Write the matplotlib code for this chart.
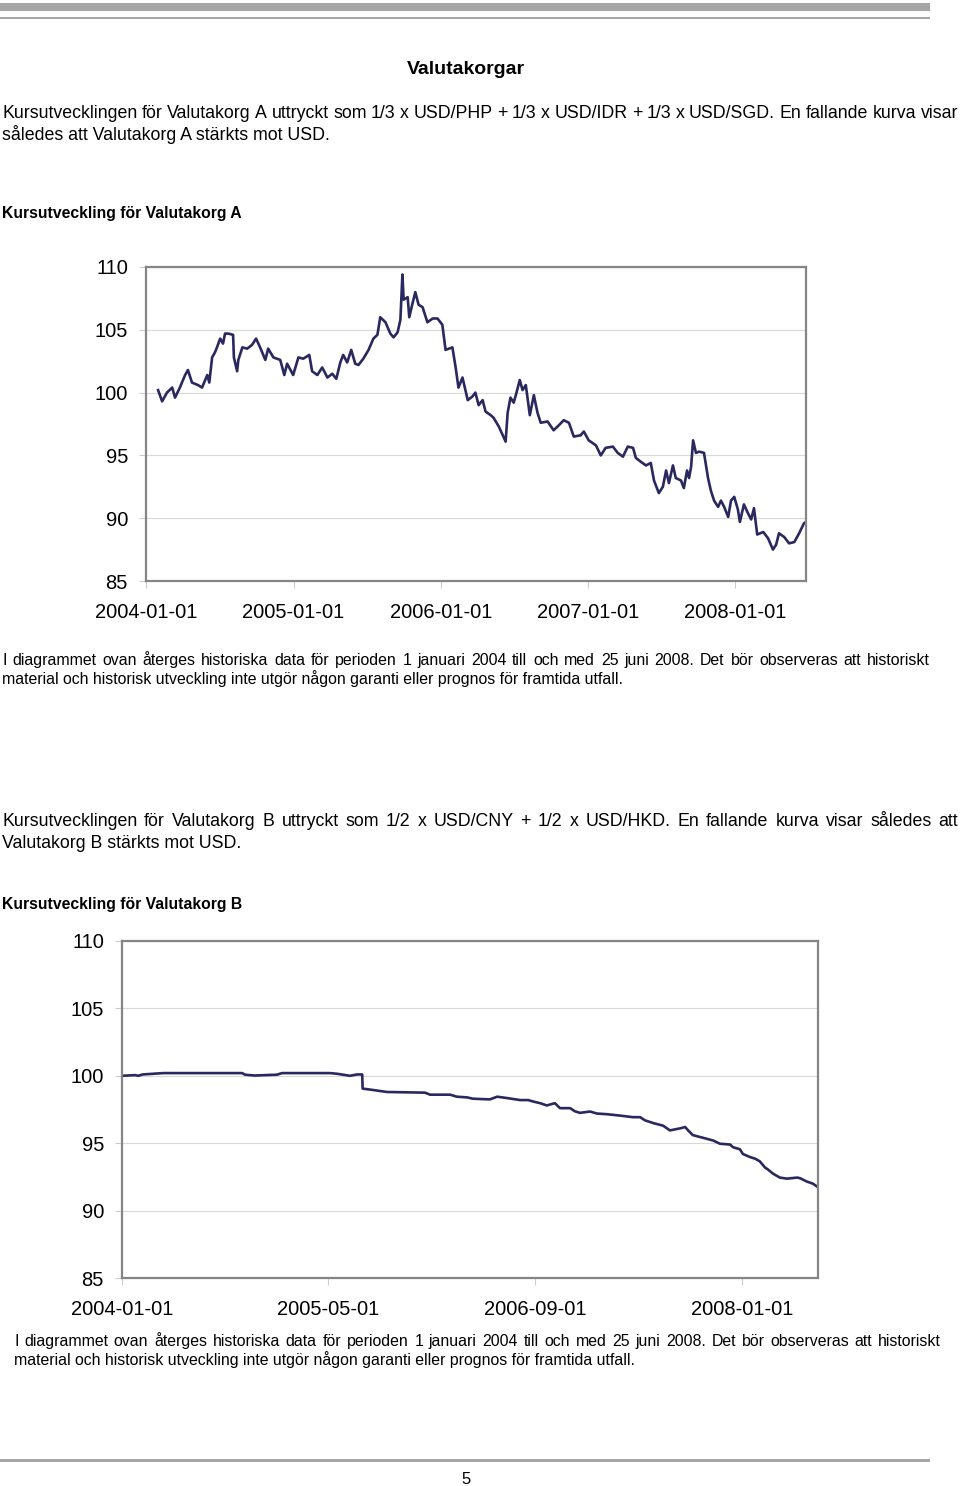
import matplotlib
matplotlib.use('Agg')
import matplotlib.pyplot as plt
import matplotlib.dates as mdates
from matplotlib.patches import Rectangle

plt.rcParams['font.family'] = ['Liberation Sans', 'DejaVu Sans']

# ---------------- data ----------------
dates_a = ['2004-01-31', '2004-02-10', '2004-02-22', '2004-03-06', '2004-03-13', '2004-03-25',
           '2004-04-07', '2004-04-14', '2004-04-24', '2004-05-09', '2004-05-19', '2004-06-01',
           '2004-06-06', '2004-06-13', '2004-06-20', '2004-06-25', '2004-07-03', '2004-07-10',
           '2004-07-15', '2004-07-23', '2004-08-04', '2004-08-06', '2004-08-14', '2004-08-17',
           '2004-08-27', '2004-09-08', '2004-09-20', '2004-09-30', '2004-10-10', '2004-10-23',
           '2004-10-30', '2004-11-12', '2004-11-29', '2004-12-09', '2004-12-16', '2004-12-31',
           '2005-01-13', '2005-01-25', '2005-02-09', '2005-02-16', '2005-03-01', '2005-03-13',
           '2005-03-26', '2005-04-07', '2005-04-17', '2005-04-27', '2005-05-04', '2005-05-14',
           '2005-05-24', '2005-06-03', '2005-06-11', '2005-06-23', '2005-07-06', '2005-07-18',
           '2005-07-28', '2005-08-04', '2005-08-17', '2005-08-29', '2005-09-06', '2005-09-16',
           '2005-09-23', '2005-09-28', '2005-10-01', '2005-10-11', '2005-10-15', '2005-10-23',
           '2005-10-30', '2005-11-07', '2005-11-17', '2005-11-29', '2005-12-12', '2005-12-24',
           '2006-01-05', '2006-01-13', '2006-01-30', '2006-02-07', '2006-02-14', '2006-02-24',
           '2006-03-09', '2006-03-21', '2006-03-28', '2006-04-05', '2006-04-15', '2006-04-22',
           '2006-05-05', '2006-05-12', '2006-05-25', '2006-06-11', '2006-06-16', '2006-06-23',
           '2006-07-01', '2006-07-08', '2006-07-16', '2006-07-23', '2006-07-31', '2006-08-05',
           '2006-08-10', '2006-08-20', '2006-08-29', '2006-09-06', '2006-09-23', '2006-10-08',
           '2006-10-21', '2006-11-02', '2006-11-15', '2006-11-27', '2006-12-14', '2006-12-22',
           '2007-01-03', '2007-01-21', '2007-02-02', '2007-02-14', '2007-03-04', '2007-03-16',
           '2007-03-29', '2007-04-10', '2007-04-23', '2007-04-30', '2007-05-12', '2007-05-25',
           '2007-06-06', '2007-06-14', '2007-06-26', '2007-07-06', '2007-07-14', '2007-07-21',
           '2007-07-31', '2007-08-07', '2007-08-20', '2007-08-27', '2007-09-04', '2007-09-09',
           '2007-09-14', '2007-09-19', '2007-09-26', '2007-10-04', '2007-10-16', '2007-10-26',
           '2007-11-02', '2007-11-10', '2007-11-20', '2007-11-27', '2007-12-05', '2007-12-15',
           '2007-12-22', '2007-12-30', '2008-01-08', '2008-01-13', '2008-01-23', '2008-02-02',
           '2008-02-10', '2008-02-17', '2008-02-25', '2008-03-11', '2008-03-23', '2008-04-04',
           '2008-04-12', '2008-04-19', '2008-05-02', '2008-05-14', '2008-05-27', '2008-06-08',
           '2008-06-20', '2008-06-25']
values_a = [100.2, 99.3, 100.0, 100.4, 99.6, 100.4,
            101.4, 101.8, 100.8, 100.6, 100.4, 101.4,
            100.8, 102.8, 103.2, 103.6, 104.3, 103.9,
            104.7, 104.7, 104.6, 102.8, 101.7, 102.6,
            103.6, 103.5, 103.8, 104.3, 103.6, 102.6,
            103.5, 102.8, 102.6, 101.4, 102.3, 101.4,
            102.8, 102.7, 103.0, 101.7, 101.4, 102.0,
            101.2, 101.5, 101.1, 102.4, 103.0, 102.4,
            103.4, 102.3, 102.2, 102.7, 103.4, 104.3,
            104.6, 106.0, 105.6, 104.7, 104.4, 104.8,
            105.8, 109.4, 107.4, 107.6, 106.0, 107.1,
            108.0, 107.0, 106.8, 105.6, 105.9, 105.9,
            105.4, 103.4, 103.6, 102.0, 100.4, 101.2,
            99.4, 99.7, 100.0, 99.0, 99.4, 98.5,
            98.2, 98.0, 97.3, 96.1, 98.4, 99.6,
            99.2, 100.0, 101.0, 100.2, 100.6, 99.4,
            98.2, 99.8, 98.4, 97.6, 97.7, 97.0,
            97.4, 97.8, 97.6, 96.5, 96.6, 96.9,
            96.2, 95.8, 95.0, 95.6, 95.7, 95.2,
            94.9, 95.7, 95.6, 94.8, 94.5, 94.2,
            94.4, 93.0, 92.0, 92.5, 93.8, 92.8,
            94.2, 93.2, 93.0, 92.4, 93.8, 93.2,
            94.1, 96.2, 95.2, 95.3, 95.2, 93.2,
            92.2, 91.4, 90.9, 91.4, 90.9, 90.1,
            91.4, 91.7, 90.7, 89.7, 91.1, 90.4,
            89.9, 90.8, 88.7, 88.9, 88.4, 87.5,
            87.9, 88.8, 88.5, 88.0, 88.1, 88.8,
            89.6, 89.7]

dates_b = ['2004-01-01', '2004-02-01', '2004-02-08', '2004-02-19', '2004-03-14', '2004-04-07',
           '2004-10-10', '2004-10-17', '2004-11-09', '2004-12-03', '2004-12-31', '2005-01-12',
           '2005-05-05', '2005-05-22', '2005-06-21', '2005-07-08', '2005-07-20', '2005-07-21',
           '2005-08-14', '2005-09-16', '2005-12-15', '2005-12-27', '2006-02-12', '2006-02-28',
           '2006-03-24', '2006-04-07', '2006-05-17', '2006-06-03', '2006-06-26', '2006-07-27',
           '2006-08-15', '2006-08-26', '2006-09-12', '2006-09-28', '2006-10-17', '2006-10-29',
           '2006-11-22', '2006-12-03', '2006-12-15', '2007-01-08', '2007-01-24', '2007-02-17',
           '2007-03-19', '2007-04-19', '2007-05-06', '2007-05-17', '2007-06-05', '2007-06-29',
           '2007-07-15', '2007-08-08', '2007-08-20', '2007-08-27', '2007-09-07', '2007-10-01',
           '2007-10-25', '2007-11-10', '2007-12-04', '2007-12-11', '2007-12-27', '2008-01-03',
           '2008-01-20', '2008-02-01', '2008-02-12', '2008-02-24', '2008-03-02', '2008-03-14',
           '2008-03-30', '2008-04-16', '2008-05-10', '2008-05-17', '2008-06-02', '2008-06-16',
           '2008-06-25']
values_b = [100.0, 100.05, 100.0, 100.1, 100.15, 100.2,
            100.2, 100.08, 100.02, 100.05, 100.08, 100.2,
            100.2, 100.15, 100.0, 100.1, 100.1, 99.05,
            98.95, 98.8, 98.75, 98.6, 98.6, 98.45,
            98.4, 98.3, 98.25, 98.45, 98.35, 98.2,
            98.2, 98.1, 97.97, 97.8, 97.97, 97.6,
            97.6, 97.37, 97.25, 97.35, 97.2, 97.15,
            97.05, 96.93, 96.93, 96.7, 96.5, 96.3,
            95.95, 96.1, 96.2, 95.95, 95.6, 95.4,
            95.2, 94.96, 94.9, 94.7, 94.55, 94.2,
            93.97, 93.85, 93.65, 93.2, 93.05, 92.74,
            92.45, 92.37, 92.45, 92.4, 92.15, 92.0,
            91.8]

xticks_a = ['2004-01-01', '2005-01-01', '2006-01-01', '2007-01-01', '2008-01-01']
xticks_b = ['2004-01-01', '2005-05-01', '2006-09-01', '2008-01-01']
yticks = [85, 90, 95, 100, 105, 110]

# ---------------- layout helpers ----------------
W, H = 960, 1486
fig = plt.figure(figsize=(W / 100, H / 100), dpi=100)
fig.patch.set_facecolor('white')


def fx(x):
    return x / W


def fy(y):
    return 1 - y / H


def add_axes_px(x0, y0, x1, y1):
    return fig.add_axes([fx(x0), fy(y1), (x1 - x0) / W, (y1 - y0) / H])


renderer = fig.canvas.get_renderer()


def justify(line, x0, x1, y, size, weight='normal'):
    words = line.split(' ')
    objs = [fig.text(0, fy(y), w, fontsize=size, fontweight=weight, va='baseline', ha='left')
            for w in words]
    widths = [o.get_window_extent(renderer=renderer).width for o in objs]
    gap = (x1 - x0 - sum(widths)) / max(len(words) - 1, 1)
    x = x0
    for o, w in zip(objs, widths):
        o.set_x(fx(x))
        x += w + gap


def text(x, y, s, size, weight='normal', ha='left'):
    fig.text(fx(x), fy(y), s, fontsize=size, fontweight=weight, va='baseline', ha=ha)


# rules
fig.add_artist(Rectangle((fx(0), fy(11)), fx(930), 8 / H, transform=fig.transFigure,
                         facecolor='#a6a6a6', edgecolor='none'))
fig.add_artist(Rectangle((fx(0), fy(19)), fx(930), 2 / H, transform=fig.transFigure,
                         facecolor='#a6a6a6', edgecolor='none'))
fig.add_artist(Rectangle((fx(0), fy(1462)), fx(930), 3 / H, transform=fig.transFigure,
                         facecolor='#a6a6a6', edgecolor='none'))

# texts
BODY = 12.8
NOTE = 11.4
text(466, 74, 'Valutakorgar', 14, 'bold', ha='center')
justify('Kursutvecklingen för Valutakorg A uttryckt som 1/3 x USD/PHP + 1/3 x USD/IDR + 1/3 x USD/SGD. En fallande kurva visar',
        2, 958, 118, BODY)
text(2, 140, 'således att Valutakorg A stärkts mot USD.', BODY)
text(2, 218, 'Kursutveckling för Valutakorg A', 11.3, 'bold')
justify('I diagrammet ovan återges historiska data för perioden 1 januari 2004 till och med 25 juni 2008. Det bör observeras att historiskt',
        2, 930, 665, NOTE)
text(2, 684, 'material och historisk utveckling inte utgör någon garanti eller prognos för framtida utfall.', NOTE)

justify('Kursutvecklingen för Valutakorg B uttryckt som 1/2 x USD/CNY + 1/2 x USD/HKD. En fallande kurva visar således att',
        2, 958, 826, BODY)
text(2, 848, 'Valutakorg B stärkts mot USD.', BODY)
text(2, 909, 'Kursutveckling för Valutakorg B', 11.3, 'bold')
justify('I diagrammet ovan återges historiska data för perioden 1 januari 2004 till och med 25 juni 2008. Det bör observeras att historiskt',
        14, 941, 1346, NOTE)
text(14, 1365, 'material och historisk utveckling inte utgör någon garanti eller prognos för framtida utfall.', NOTE)
text(466, 1484, '5', 12, ha='center')


# ---------------- charts ----------------
def setup(ax, ticks, xmin, xmax):
    ax.set_ylim(85, 110)
    ax.set_yticks(yticks)
    ax.set_yticklabels([str(v) for v in yticks])
    ax.set_xlim(mdates.datestr2num(xmin), mdates.datestr2num(xmax))
    ax.set_xticks(mdates.datestr2num(ticks))
    ax.set_xticklabels(ticks)
    ax.grid(axis='y', color='#d9d9d9', lw=0.8)
    ax.grid(axis='x', visible=False)
    ax.set_axisbelow(True)
    for s in ax.spines.values():
        s.set_color('#858585')
        s.set_linewidth(1.6)
    ax.tick_params(axis='both', direction='out', length=5, width=0.8, color='#cccccc',
                   labelsize=14.5, labelcolor='black')
    ax.tick_params(axis='x', pad=11)
    ax.tick_params(axis='y', pad=8)


LINE = '#29285f'

ax_a = add_axes_px(146, 267, 806, 581)
ax_a.plot(mdates.datestr2num(dates_a), values_a, color=LINE, lw=1.9)
setup(ax_a, xticks_a, '2004-01-01', '2008-06-25')

ax_b = add_axes_px(122, 941, 818, 1278)
ax_b.plot(mdates.datestr2num(dates_b), values_b, color=LINE, lw=1.9)
setup(ax_b, xticks_b, '2004-01-01', '2008-06-28')

fig.savefig('out.png', dpi=100, facecolor='white')
